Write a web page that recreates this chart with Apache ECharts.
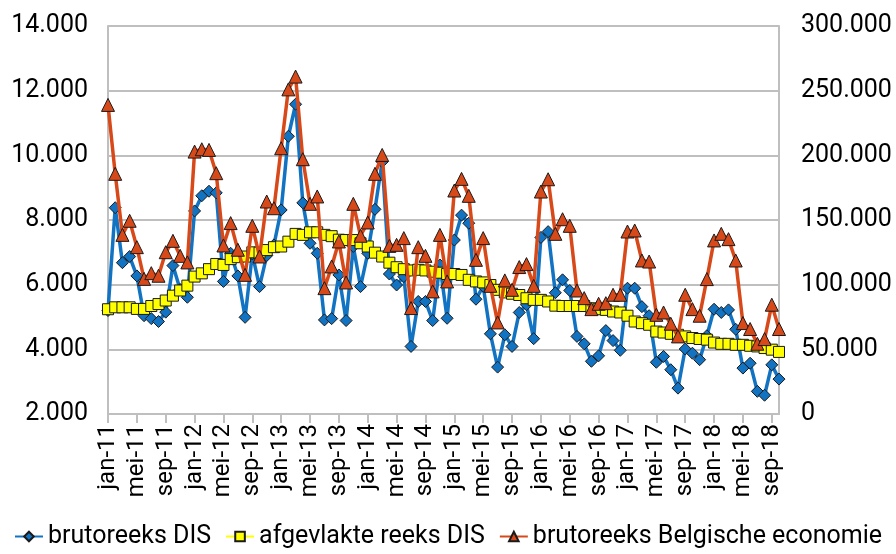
<!DOCTYPE html>
<html lang="nl">

<head>
    <meta charset="UTF-8">
    <title>DIS en Belgische economie</title>
    <script src="https://cdn.jsdelivr.net/npm/echarts@6/dist/echarts.min.js"></script>
    <style>
        html, body { margin: 0; padding: 0; background: #fff; }
        .chart { width: 896px; height: 554px; }
    </style>
</head>

<body>
    <div class="chart"></div>

    <script>
        // maanden jan-11 .. okt-18
        var maanden = ['jan', 'feb', 'mrt', 'apr', 'mei', 'jun', 'jul', 'aug', 'sep', 'okt', 'nov', 'dec'];
        var months = [];
        for (var y = 11; y <= 18; y++) {
            for (var m = 0; m < 12; m++) {
                if (y == 18 && m > 9) break;
                months.push(maanden[m] + '-' + y);
            }
        }

        var brutoDIS = [
            5200, 8380, 6680, 6870, 6270, 5040, 4950, 4860, 5150, 6590, 5850, 5610,
            8280, 8750, 8890, 8840, 6100, 6970, 6270, 4990, 6950, 5940, 6900, 7230,
            8310, 10590, 11580, 8530, 7280, 6970, 4910, 4950, 6300, 4890, 7180, 5940,
            6970, 8330, 9800, 6330, 5990, 6250, 4090, 5480, 5480, 4890, 6610, 4960,
            7380, 8150, 7900, 5550, 5950, 4480, 3450, 4450, 4090, 5140, 5380, 4330,
            7460, 7640, 5750, 6150, 5820, 4400, 4170, 3630, 3800, 4580, 4270, 3970,
            5890, 5890, 5320, 5040, 3600, 3780, 3370, 2800, 4010, 3880, 3680, 4420,
            5240, 5140, 5220, 4620, 3420, 3570, 2700, 2580, 3520, 3080
        ];
        var afgevlaktDIS = [
            5240, 5300, 5300, 5300, 5250, 5250, 5340, 5400, 5510, 5660, 5820, 5970,
            6250, 6350, 6480, 6640, 6610, 6790, 6850, 6870, 7000, 6990, 7070, 7160,
            7180, 7330, 7570, 7540, 7620, 7620, 7540, 7500, 7390, 7380, 7380, 7280,
            7180, 6990, 6870, 6680, 6540, 6480, 6440, 6460, 6440, 6400, 6370, 6330,
            6330, 6300, 6150, 6100, 6070, 5990, 5840, 5760, 5720, 5680, 5580, 5530,
            5530, 5480, 5350, 5340, 5340, 5340, 5340, 5270, 5240, 5220, 5170, 5140,
            5040, 4860, 4810, 4760, 4550, 4520, 4480, 4450, 4400, 4350, 4320, 4300,
            4210, 4170, 4170, 4140, 4140, 4110, 4090, 4040, 3990, 3920
        ];
        var brutoBE = [
            239000, 185700, 138500, 149400, 129000, 104500, 108900, 106900, 125100, 133900, 122300, 117200,
            202900, 204700, 204200, 186200, 130300, 147600, 127000, 107600, 145500, 121800, 164300, 159100,
            205500, 251000, 260900, 197000, 162500, 168200, 97300, 114100, 133400, 101700, 162500, 137800,
            148100, 185700, 200300, 130000, 130800, 136000, 81900, 129000, 122300, 94800, 138500, 102500,
            172800, 181800, 168700, 119200, 136000, 99100, 70800, 103300, 96000, 113600, 115900, 99100,
            172000, 181500, 139300, 150600, 145500, 95500, 89600, 81100, 85200, 85700, 92200, 92200,
            141100, 141900, 118700, 117900, 76700, 78500, 69800, 60000, 92200, 81100, 76000, 104300,
            134200, 139300, 135200, 118700, 70300, 65700, 54300, 57900, 84500, 65700
        ];

        function punt(v) {
            return String(v).replace(/\B(?=(\d{3})+(?!\d))/g, '.');
        }

        var fontNaam = 'Roboto';
        var grijs = '#bfbfbf';

        var chart = echarts.init(document.querySelector('.chart'), null, { renderer: 'canvas' });
        var option = {
            animation: false,
            textStyle: { fontFamily: fontNaam },
            grid: { left: 108, right: 117, top: 26, bottom: 140 },
            legend: {
                bottom: 0,
                left: 'center',
                itemWidth: 28,
                itemHeight: 12,
                itemGap: 14,
                textStyle: { fontFamily: fontNaam, fontSize: 25, color: '#000' },
                data: ['brutoreeks DIS', 'afgevlakte reeks DIS', 'brutoreeks Belgische economie']
            },
            xAxis: {
                type: 'category',
                boundaryGap: false,
                data: months,
                axisLine: { lineStyle: { color: grijs, width: 2 } },
                axisTick: { interval: 3, length: 9, lineStyle: { color: grijs, width: 2 } },
                axisLabel: {
                    interval: 3,
                    rotate: 90,
                    margin: 10,
                    fontSize: 24,
                    color: '#000',
                    fontFamily: fontNaam
                },
                splitLine: { show: false }
            },
            yAxis: [
                {
                    type: 'value',
                    min: 2000,
                    max: 14000,
                    interval: 2000,
                    axisLine: { show: true, lineStyle: { color: grijs, width: 2 } },
                    axisTick: { show: false },
                    axisLabel: {
                        margin: 20,
                        fontSize: 25,
                        color: '#000',
                        fontFamily: fontNaam,
                        formatter: punt
                    },
                    splitLine: { lineStyle: { color: grijs, width: 2 } }
                },
                {
                    type: 'value',
                    min: 0,
                    max: 300000,
                    interval: 50000,
                    axisLine: { show: true, lineStyle: { color: grijs, width: 2 } },
                    axisTick: { show: false },
                    axisLabel: {
                        margin: 22,
                        fontSize: 25,
                        color: '#000',
                        fontFamily: fontNaam,
                        formatter: punt
                    },
                    splitLine: { show: false }
                }
            ],
            series: [
                {
                    name: 'brutoreeks DIS',
                    type: 'line',
                    yAxisIndex: 0,
                    data: brutoDIS,
                    symbol: 'diamond',
                    symbolSize: 12,
                    showAllSymbol: true,
                    z: 2,
                    lineStyle: { color: '#1273c2', width: 3.5 },
                    itemStyle: { color: '#1273c2', borderColor: '#1a1a1a', borderWidth: 1 }
                },
                {
                    name: 'afgevlakte reeks DIS',
                    type: 'line',
                    yAxisIndex: 0,
                    data: afgevlaktDIS,
                    symbol: 'rect',
                    symbolSize: 11,
                    showAllSymbol: true,
                    z: 3,
                    lineStyle: { color: '#ffff00', width: 3.5 },
                    itemStyle: { color: '#ffff00', borderColor: '#1a1a1a', borderWidth: 1 }
                },
                {
                    name: 'brutoreeks Belgische economie',
                    type: 'line',
                    yAxisIndex: 1,
                    data: brutoBE,
                    symbol: 'triangle',
                    symbolSize: 13,
                    showAllSymbol: true,
                    z: 4,
                    lineStyle: { color: '#d8491a', width: 3.5 },
                    itemStyle: { color: '#d8491a', borderColor: '#1a1a1a', borderWidth: 1 }
                }
            ]
        };
        chart.setOption(option);
    </script>
</body>

</html>
